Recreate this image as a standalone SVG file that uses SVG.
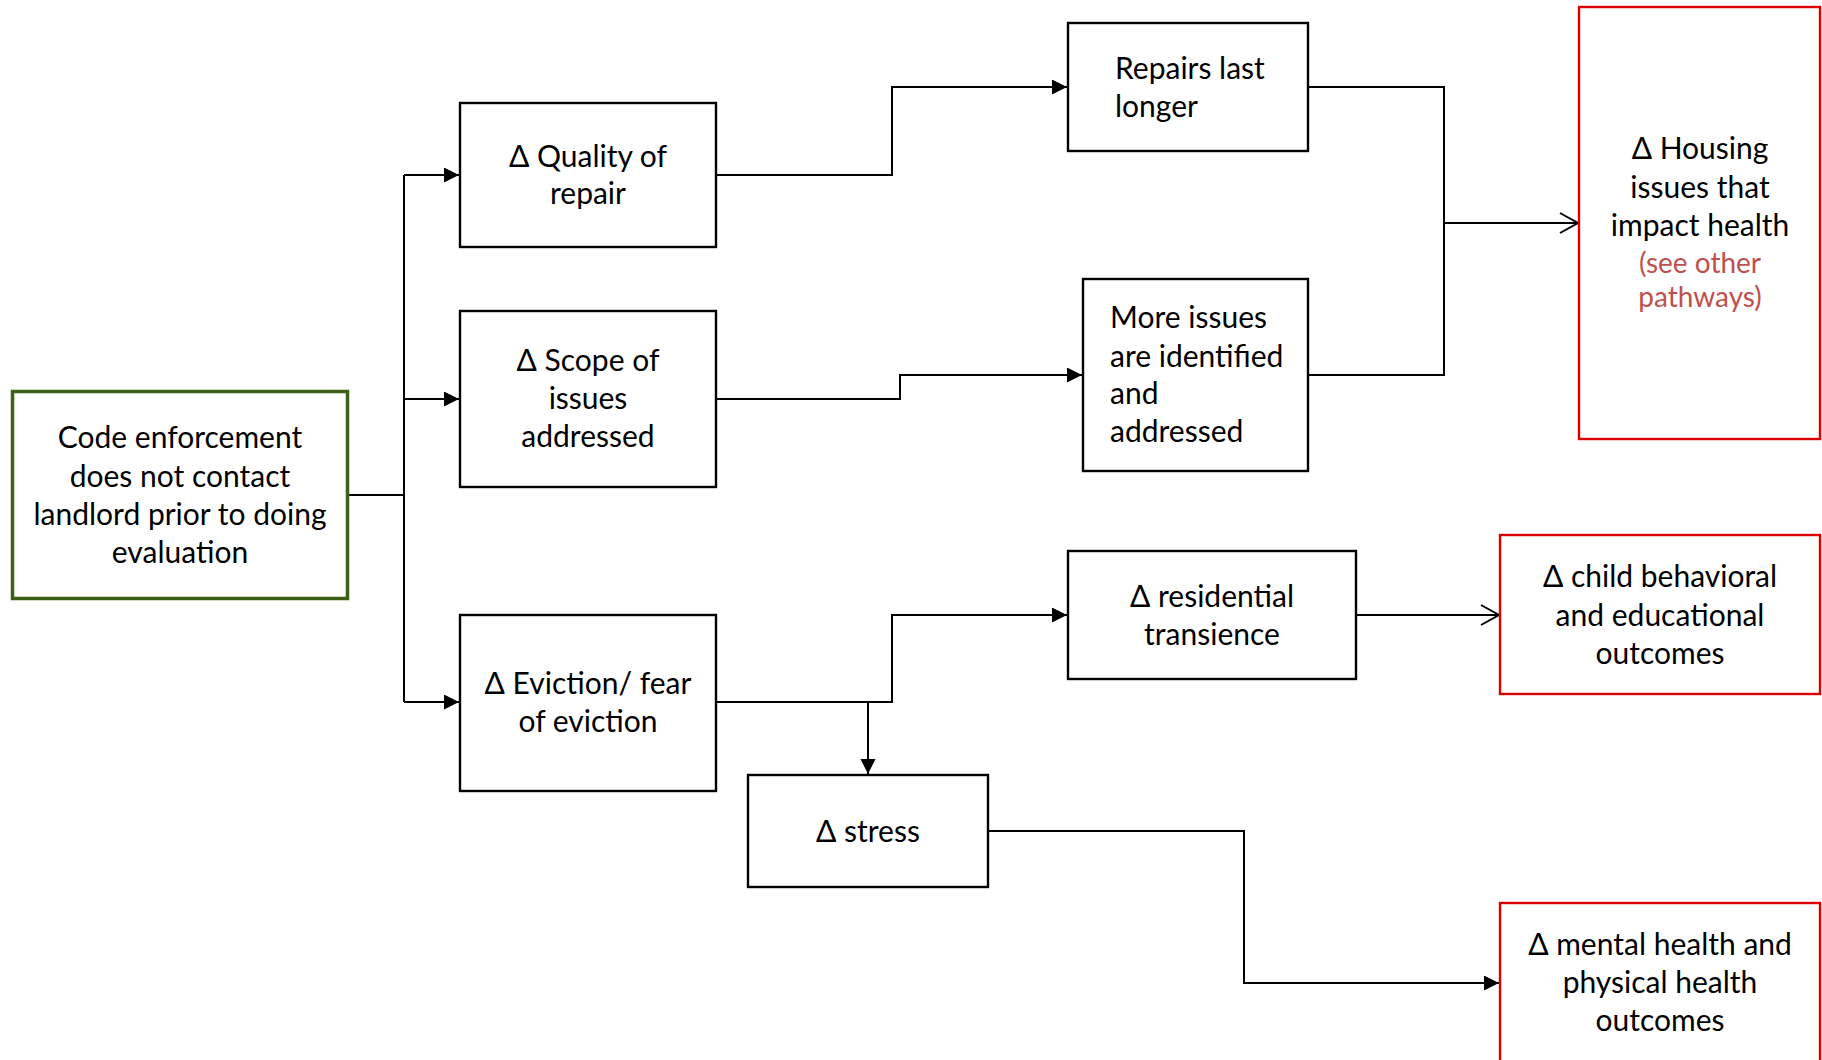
<svg xmlns="http://www.w3.org/2000/svg" width="1822" height="1060" viewBox="0 0 1822 1060">
<style>
  .box { fill: #ffffff; stroke: #000000; stroke-width: 2.4; }
  .green { fill: #ffffff; stroke: #3b6117; stroke-width: 3.5; }
  .red { fill: #ffffff; stroke: #dd0000; stroke-width: 2.4; }
  .t { font-family: Lato, "Liberation Sans", sans-serif; font-size: 30px; fill: #000000; }
  .c { text-anchor: middle; }
  .s { font-size: 28px; fill: #c0504d; }
  .ln { fill: none; stroke: #000000; stroke-width: 2; }
</style>
<defs>
  <marker id="fa" markerUnits="userSpaceOnUse" markerWidth="16" markerHeight="16" refX="15" refY="7.5" orient="auto">
    <path d="M0,0 L15,7.5 L0,15 z" fill="#000000"/>
  </marker>
  <marker id="oa" markerUnits="userSpaceOnUse" markerWidth="22" markerHeight="24" refX="19" refY="11" orient="auto">
    <path d="M1,1 L19,11 L1,21" fill="none" stroke="#000000" stroke-width="2"/>
  </marker>
</defs>
<rect width="1822" height="1060" fill="#ffffff"/>

<g id="connectors">
  <path class="ln" d="M347,495 H404"/>
  <path class="ln" d="M404,175 V702"/>
  <path class="ln" d="M404,175 H459" marker-end="url(#fa)"/>
  <path class="ln" d="M404,399 H459" marker-end="url(#fa)"/>
  <path class="ln" d="M404,702 H459" marker-end="url(#fa)"/>
  <path class="ln" d="M716,175 H892 V87 H1067" marker-end="url(#fa)"/>
  <path class="ln" d="M716,399 H900 V375 H1082" marker-end="url(#fa)"/>
  <path class="ln" d="M1308,87 H1444 V375 H1308"/>
  <path class="ln" d="M1444,223 H1578" marker-end="url(#oa)"/>
  <path class="ln" d="M716,702 H892 V615 H1067" marker-end="url(#fa)"/>
  <path class="ln" d="M868,702 V774" marker-end="url(#fa)"/>
  <path class="ln" d="M1356,615 H1499" marker-end="url(#oa)"/>
  <path class="ln" d="M988,831 H1244 V983 H1499" marker-end="url(#fa)"/>
</g>

<g id="code-enforcement">
  <rect class="green" x="12.5" y="391.5" width="335" height="207"/>
  <text class="t c" x="180" y="448">Code enforcement</text>
  <text class="t c" x="180" y="487">does not contact</text>
  <text class="t c" x="180" y="525">landlord prior to doing</text>
  <text class="t c" x="180" y="563">evaluation</text>
</g>

<g id="quality">
  <rect class="box" x="460" y="103" width="256" height="144"/>
  <text class="t c" x="588" y="167">Δ Quality of</text>
  <text class="t c" x="588" y="204">repair</text>
</g>

<g id="scope">
  <rect class="box" x="460" y="311" width="256" height="176"/>
  <text class="t c" x="588" y="371">Δ Scope of</text>
  <text class="t c" x="588" y="409">issues</text>
  <text class="t c" x="588" y="447">addressed</text>
</g>

<g id="eviction">
  <rect class="box" x="460" y="615" width="256" height="176"/>
  <text class="t c" x="588" y="694">Δ Eviction/ fear</text>
  <text class="t c" x="588" y="732">of eviction</text>
</g>

<g id="stress">
  <rect class="box" x="748" y="775" width="240" height="112"/>
  <text class="t c" x="868" y="842">Δ stress</text>
</g>

<g id="repairs">
  <rect class="box" x="1068" y="23" width="240" height="128"/>
  <text class="t" x="1115" y="79">Repairs last</text>
  <text class="t" x="1115" y="117">longer</text>
</g>

<g id="more-issues">
  <rect class="box" x="1083" y="279" width="225" height="192"/>
  <text class="t" x="1110" y="328">More issues</text>
  <text class="t" x="1110" y="367">are identified</text>
  <text class="t" x="1110" y="404">and</text>
  <text class="t" x="1110" y="442">addressed</text>
</g>

<g id="residential">
  <rect class="box" x="1068" y="551" width="288" height="128"/>
  <text class="t c" x="1212" y="607">Δ residential</text>
  <text class="t c" x="1212" y="645">transience</text>
</g>

<g id="housing">
  <rect class="red" x="1579" y="7" width="241" height="432"/>
  <text class="t c" x="1700" y="159">Δ Housing</text>
  <text class="t c" x="1700" y="198">issues that</text>
  <text class="t c" x="1700" y="236">impact health</text>
  <text class="t c s" x="1700" y="273">(see other</text>
  <text class="t c s" x="1700" y="307">pathways)</text>
</g>

<g id="child">
  <rect class="red" x="1500" y="535" width="320" height="159"/>
  <text class="t c" x="1660" y="587">Δ child behavioral</text>
  <text class="t c" x="1660" y="626">and educational</text>
  <text class="t c" x="1660" y="664">outcomes</text>
</g>

<g id="mental">
  <rect class="red" x="1500" y="903" width="320" height="180"/>
  <text class="t c" x="1660" y="955">Δ mental health and</text>
  <text class="t c" x="1660" y="993">physical health</text>
  <text class="t c" x="1660" y="1031">outcomes</text>
</g>
</svg>
